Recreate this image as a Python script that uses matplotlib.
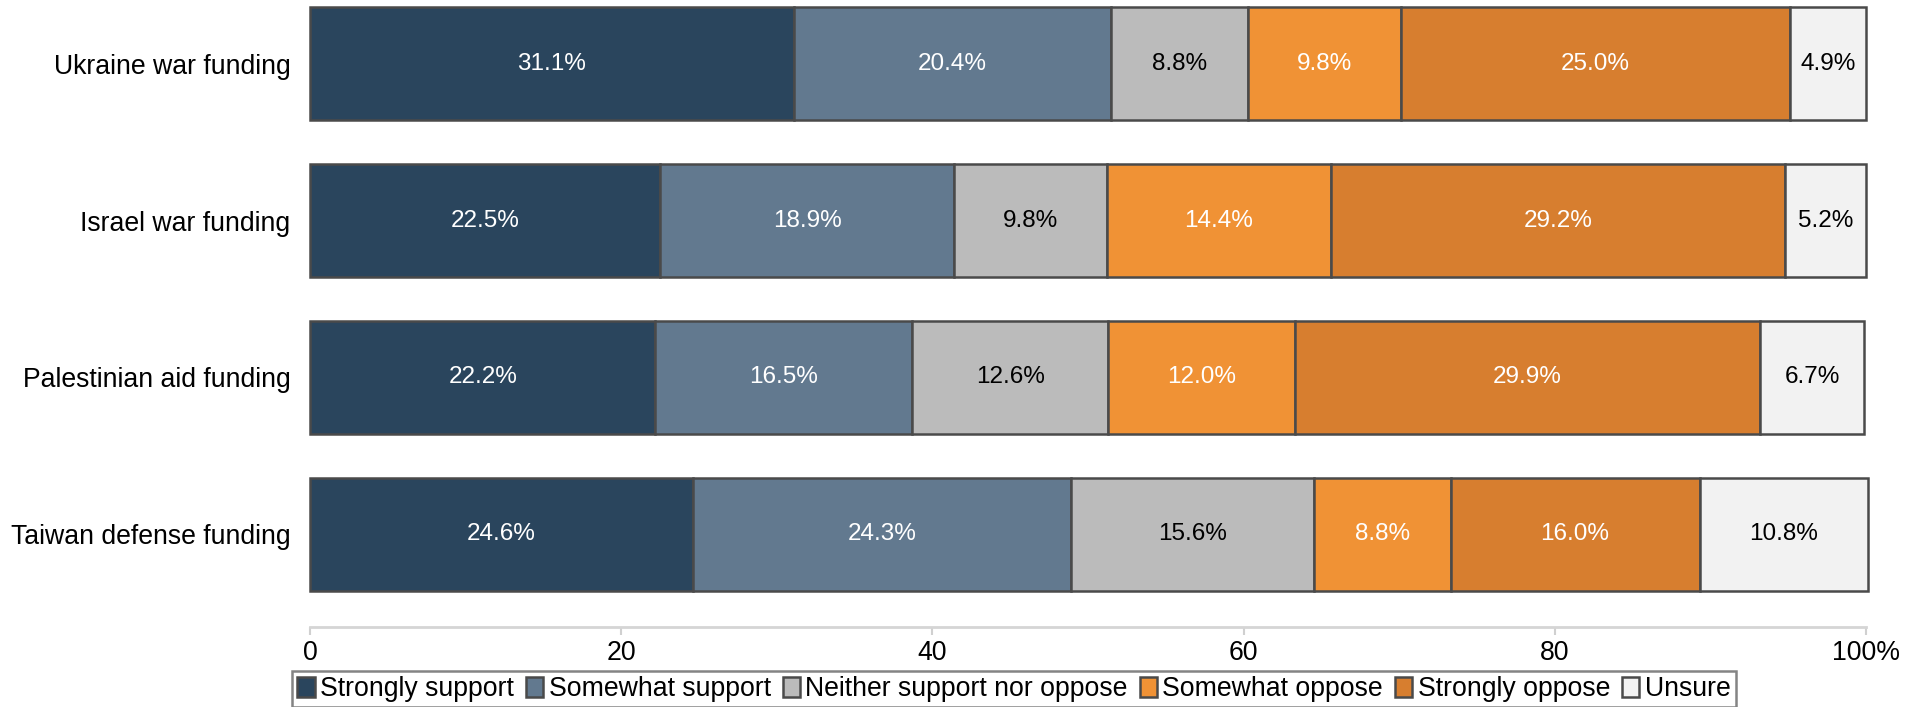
import numpy as np
import matplotlib
matplotlib.use("Agg")
import matplotlib.pyplot as plt
from matplotlib.patches import Patch

plt.rcParams['font.family'] = ['Liberation Sans', 'DejaVu Sans']

# --- Data ---
topics = ["Ukraine war funding", "Israel war funding",
          "Palestinian aid funding", "Taiwan defense funding"]
categories = ["Strongly support", "Somewhat support", "Neither support nor oppose",
              "Somewhat oppose", "Strongly oppose", "Unsure"]
strongly_support = [31.1, 22.5, 22.2, 24.6]
somewhat_support = [20.4, 18.9, 16.5, 24.3]
neither = [8.8, 9.8, 12.6, 15.6]
somewhat_oppose = [9.8, 14.4, 12.0, 8.8]
strongly_oppose = [25.0, 29.2, 29.9, 16.0]
unsure = [4.9, 5.2, 6.7, 10.8]

colors = ["#2a455d", "#62798f", "#bbbbbb", "#f09235", "#d77e2f", "#f2f2f2"]
text_colors = ["white", "white", "black", "white", "white", "black"]

series = [strongly_support, somewhat_support, neither,
          somewhat_oppose, strongly_oppose, unsure]

FS = 19.2

# --- Plot ---
fig = plt.figure(figsize=(19.31, 7.07), dpi=100)
ax = fig.add_axes([310 / 1931, 1 - 627 / 707, 1556 / 1931, 623 / 707])

y = np.arange(len(topics))[::-1]
left = np.zeros(len(topics))
for vals, col, tcol in zip(series, colors, text_colors):
    vals = np.array(vals)
    bars = ax.barh(y, vals, left=left, height=0.72, color=col,
                   edgecolor="#4a4a4a", linewidth=1.8)
    for b in bars:
        b.set_clip_on(False)
    for yi, l, v in zip(y, left, vals):
        ax.text(l + v / 2, yi, f"{v:.1f}%", ha="center", va="center",
                color=tcol, fontsize=17.5)
    left += vals

ax.set_xlim(0, 100)
ax.set_ylim(-0.59, 3.38)
ax.set_yticks(y)
ax.set_yticklabels(topics, fontsize=FS)
ax.tick_params(axis="y", length=0, pad=14)
ax.set_xticks([0, 20, 40, 60, 80, 100])
ax.set_xticklabels(["0", "20", "40", "60", "80", "100%"], fontsize=FS)
ax.tick_params(axis="x", color="#d0d0d0", length=6, width=1.5, pad=3)

for s in ["top", "right", "left"]:
    ax.spines[s].set_visible(False)
ax.spines["bottom"].set_color("#d5d5d5")
ax.spines["bottom"].set_linewidth(2)

handles = [Patch(facecolor=c, edgecolor="#4a4a4a", linewidth=1.8) for c in colors]
leg = fig.legend(handles, categories, loc="center", ncol=6,
                 bbox_to_anchor=(1014 / 1931, 1 - 689 / 707),
                 fontsize=FS, frameon=True, fancybox=False,
                 handlelength=0.65, handleheight=0.8, handletextpad=0.2,
                 columnspacing=0.45, borderpad=0.2, borderaxespad=0)
leg.get_frame().set_edgecolor("#666666")
leg.get_frame().set_linewidth(1.8)

fig.savefig("out.png", dpi=100)
